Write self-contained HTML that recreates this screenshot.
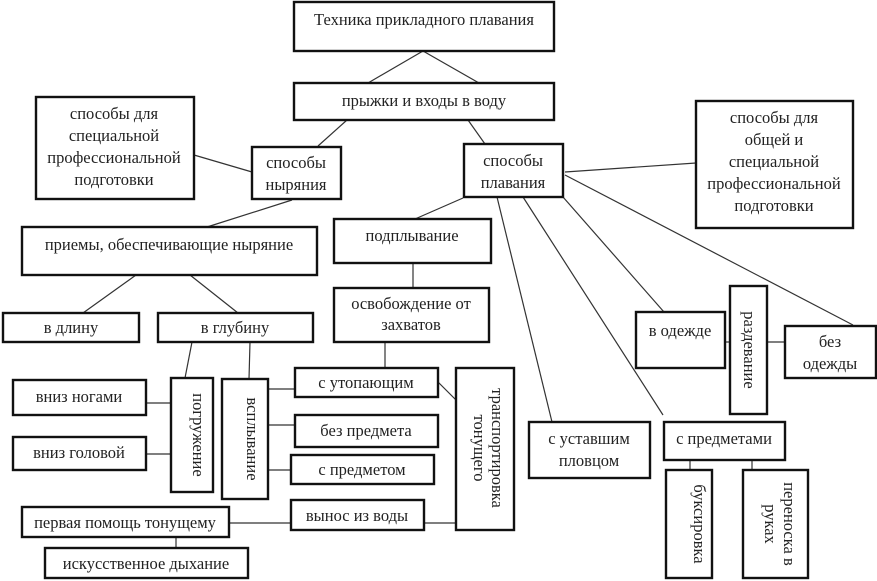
<!DOCTYPE html>
<html><head><meta charset="utf-8"><style>
html,body{margin:0;padding:0;background:#fff;}
svg{display:block;}
text{font-family:"Liberation Serif","Noto Serif CJK SC",serif;font-size:16.5px;fill:#222;}
rect{fill:#fff;stroke:#111;stroke-width:2.4;}
line{stroke:#333;stroke-width:1.2;}
</style></head><body>
<svg width="877" height="581" viewBox="0 0 877 581" xmlns="http://www.w3.org/2000/svg">
<line x1="423" y1="51" x2="368" y2="83"/>
<line x1="423" y1="51" x2="479" y2="83"/>
<line x1="347" y1="120" x2="318" y2="146"/>
<line x1="468" y1="120" x2="485" y2="144"/>
<line x1="252" y1="172" x2="194" y2="155"/>
<line x1="292" y1="200" x2="207" y2="227"/>
<line x1="463" y1="198" x2="415" y2="219"/>
<line x1="413" y1="263" x2="413" y2="288"/>
<line x1="497" y1="197" x2="552" y2="422"/>
<line x1="523" y1="197" x2="663" y2="415"/>
<line x1="563" y1="197" x2="664" y2="312"/>
<line x1="565" y1="175" x2="853" y2="325"/>
<line x1="565" y1="172" x2="696" y2="163"/>
<line x1="136" y1="275" x2="83" y2="313"/>
<line x1="190" y1="275" x2="238" y2="313"/>
<line x1="192" y1="342" x2="185" y2="378"/>
<line x1="250" y1="342" x2="249" y2="379"/>
<line x1="146" y1="403" x2="171" y2="403"/>
<line x1="146" y1="454" x2="171" y2="454"/>
<line x1="268" y1="389" x2="295" y2="389"/>
<line x1="268" y1="425" x2="295" y2="425"/>
<line x1="268" y1="470" x2="291" y2="470"/>
<line x1="385" y1="342" x2="385" y2="368"/>
<line x1="438" y1="382" x2="456" y2="400"/>
<line x1="229" y1="523" x2="291" y2="523"/>
<line x1="424" y1="523" x2="456" y2="523"/>
<line x1="176" y1="537" x2="176" y2="548"/>
<line x1="725" y1="342" x2="730" y2="342"/>
<line x1="767" y1="342" x2="785" y2="342"/>
<line x1="690" y1="460" x2="690" y2="470"/>
<line x1="752" y1="460" x2="752" y2="470"/>

<rect x="294" y="2" width="260" height="49"/>
<text x="424" y="25" text-anchor="middle">Техника прикладного плавания</text>
<rect x="294" y="83" width="260" height="37"/>
<text x="424" y="106" text-anchor="middle">прыжки и входы в воду</text>
<rect x="36" y="97" width="158" height="102"/>
<text x="114" y="119" text-anchor="middle">способы для</text>
<text x="114" y="141" text-anchor="middle">специальной</text>
<text x="114" y="163" text-anchor="middle">профессиональной</text>
<text x="114" y="185" text-anchor="middle">подготовки</text>
<rect x="252" y="147" width="89" height="52"/>
<text x="296" y="168" text-anchor="middle">способы</text>
<text x="296" y="190" text-anchor="middle">ныряния</text>
<rect x="464" y="144" width="99" height="53"/>
<text x="513" y="166" text-anchor="middle">способы</text>
<text x="513" y="188" text-anchor="middle">плавания</text>
<rect x="696" y="101" width="157" height="127"/>
<text x="774" y="123" text-anchor="middle">способы для</text>
<text x="774" y="145" text-anchor="middle">общей и</text>
<text x="774" y="167" text-anchor="middle">специальной</text>
<text x="774" y="189" text-anchor="middle">профессиональной</text>
<text x="774" y="211" text-anchor="middle">подготовки</text>
<rect x="22" y="227" width="295" height="48"/>
<text x="169" y="250" text-anchor="middle">приемы, обеспечивающие ныряние</text>
<rect x="334" y="219" width="157" height="44"/>
<text x="412" y="241" text-anchor="middle">подплывание</text>
<rect x="334" y="288" width="155" height="54"/>
<text x="411" y="309" text-anchor="middle">освобождение от</text>
<text x="411" y="330" text-anchor="middle">захватов</text>
<rect x="3" y="313" width="136" height="29"/>
<text x="71" y="333" text-anchor="middle">в длину</text>
<rect x="158" y="313" width="155" height="29"/>
<text x="235" y="333" text-anchor="middle">в глубину</text>
<rect x="636" y="312" width="89" height="56"/>
<text x="680" y="336" text-anchor="middle">в одежде</text>
<rect x="730" y="286" width="37" height="128"/>
<text transform="translate(744,350) rotate(90)" text-anchor="middle">раздевание</text>
<rect x="785" y="326" width="91" height="52"/>
<text x="830" y="347" text-anchor="middle">без</text>
<text x="830" y="369" text-anchor="middle">одежды</text>
<rect x="13" y="380" width="133" height="35"/>
<text x="79" y="402" text-anchor="middle">вниз ногами</text>
<rect x="13" y="437" width="133" height="33"/>
<text x="79" y="458" text-anchor="middle">вниз головой</text>
<rect x="171" y="378" width="42" height="114"/>
<text transform="translate(193,435) rotate(90)" text-anchor="middle">погружение</text>
<rect x="222" y="379" width="46" height="120"/>
<text transform="translate(247,439) rotate(90)" text-anchor="middle">всплывание</text>
<rect x="295" y="368" width="143" height="29"/>
<text x="366" y="388" text-anchor="middle">с утопающим</text>
<rect x="295" y="415" width="143" height="32"/>
<text x="366" y="436" text-anchor="middle">без предмета</text>
<rect x="291" y="455" width="143" height="29"/>
<text x="362" y="475" text-anchor="middle">с предметом</text>
<rect x="456" y="368" width="58" height="162"/>
<text transform="translate(492,448) rotate(90)" text-anchor="middle">транспортировка</text>
<text transform="translate(474,448) rotate(90)" text-anchor="middle">тонущего</text>
<rect x="529" y="422" width="121" height="56"/>
<text x="589" y="444" text-anchor="middle">с уставшим</text>
<text x="589" y="466" text-anchor="middle">пловцом</text>
<rect x="664" y="422" width="121" height="38"/>
<text x="724" y="444" text-anchor="middle">с предметами</text>
<rect x="666" y="470" width="46" height="108"/>
<text transform="translate(694,524) rotate(90)" text-anchor="middle">буксировка</text>
<rect x="743" y="470" width="65" height="108"/>
<text transform="translate(784,524) rotate(90)" text-anchor="middle">переноска в</text>
<text transform="translate(765,524) rotate(90)" text-anchor="middle">руках</text>
<rect x="291" y="500" width="133" height="30"/>
<text x="357" y="521" text-anchor="middle">вынос из воды</text>
<rect x="22" y="507" width="207" height="30"/>
<text x="125" y="528" text-anchor="middle">первая помощь тонущему</text>
<rect x="45" y="548" width="203" height="30"/>
<text x="146" y="569" text-anchor="middle">искусственное дыхание</text>
</svg>
</body></html>
